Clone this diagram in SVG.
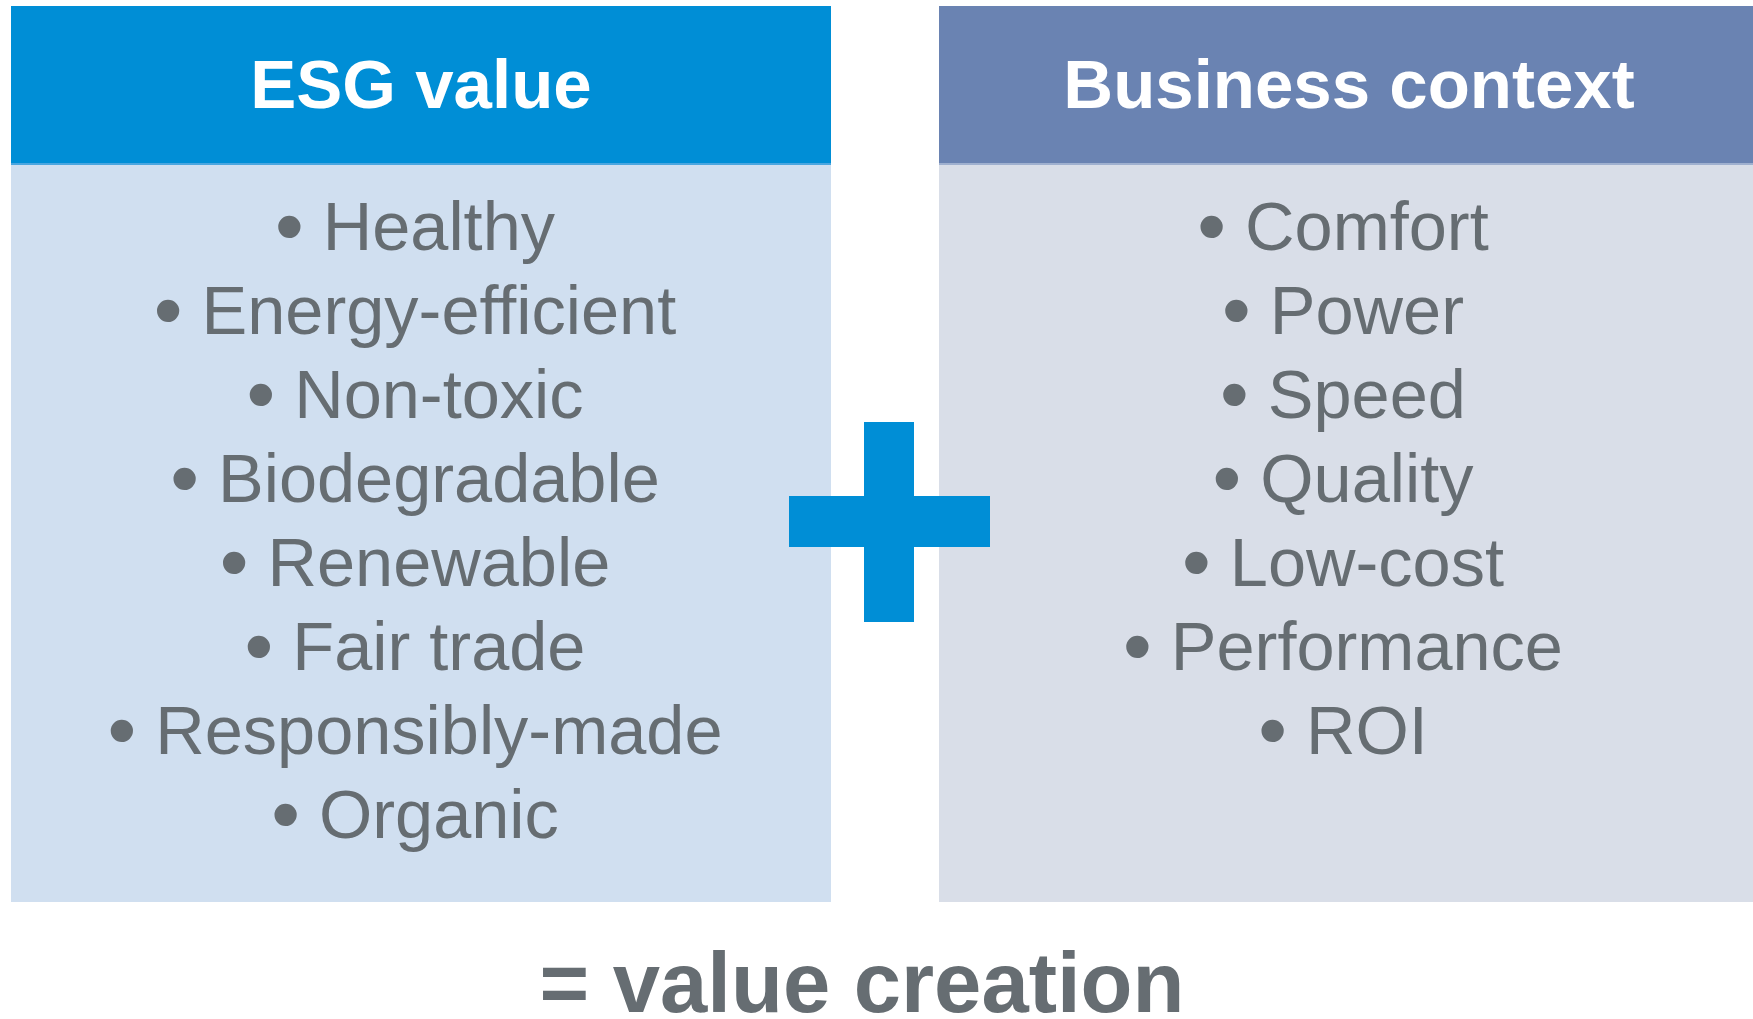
<svg xmlns="http://www.w3.org/2000/svg" width="1753" height="1019" viewBox="0 0 1753 1019">
  <style>
    .hdr { font-family: "Liberation Sans", Arial, sans-serif; font-weight: bold; font-size: 69px; fill: #ffffff; text-anchor: middle; }
    .item { font-family: "Liberation Sans", Arial, sans-serif; font-size: 68.5px; fill: #666d72; text-anchor: middle; }
    .item .b { font-size: 82px; baseline-shift: -4px; }
    .total { font-family: "Liberation Sans", Arial, sans-serif; font-weight: bold; font-size: 85px; fill: #666d72; text-anchor: middle; }
  </style>
  <rect width="1753" height="1019" fill="#ffffff"/>

  <!-- ESG value column -->
  <g id="esg-value">
    <rect x="11" y="164" width="820" height="738" fill="#d0dff0"/>
    <rect x="11" y="6" width="820" height="158" fill="#008ed6"/>
    <line x1="11" y1="164" x2="831" y2="164" stroke="#4aa6e0" stroke-width="2"/>
    <text class="hdr" x="421" y="108">ESG value</text>
    <text class="item" x="415" y="250"><tspan class="b">•</tspan> Healthy</text>
    <text class="item" x="415" y="334"><tspan class="b">•</tspan> Energy-efficient</text>
    <text class="item" x="415" y="418"><tspan class="b">•</tspan> Non-toxic</text>
    <text class="item" x="415" y="502"><tspan class="b">•</tspan> Biodegradable</text>
    <text class="item" x="415" y="586"><tspan class="b">•</tspan> Renewable</text>
    <text class="item" x="415" y="670"><tspan class="b">•</tspan> Fair trade</text>
    <text class="item" x="415" y="754"><tspan class="b">•</tspan> Responsibly-made</text>
    <text class="item" x="415" y="838"><tspan class="b">•</tspan> Organic</text>
  </g>

  <!-- Business context column -->
  <g id="business-context">
    <rect x="939" y="164" width="814" height="738" fill="#d9dee8"/>
    <rect x="939" y="6" width="814" height="158" fill="#6a83b2"/>
    <line x1="939" y1="164" x2="1753" y2="164" stroke="#9fb0cf" stroke-width="2"/>
    <text class="hdr" x="1349" y="108">Business context</text>
    <text class="item" x="1343" y="250"><tspan class="b">•</tspan> Comfort</text>
    <text class="item" x="1343" y="334"><tspan class="b">•</tspan> Power</text>
    <text class="item" x="1343" y="418"><tspan class="b">•</tspan> Speed</text>
    <text class="item" x="1343" y="502"><tspan class="b">•</tspan> Quality</text>
    <text class="item" x="1343" y="586"><tspan class="b">•</tspan> Low-cost</text>
    <text class="item" x="1343" y="670"><tspan class="b">•</tspan> Performance</text>
    <text class="item" x="1343" y="754"><tspan class="b">•</tspan> ROI</text>
  </g>

  <!-- plus sign between the columns -->
  <g id="plus">
    <rect x="864" y="422" width="50" height="200" fill="#008ed6"/>
    <rect x="789" y="496" width="201" height="51" fill="#008ed6"/>
  </g>

  <g id="connectors"></g>

  <g id="result">
    <text class="total" x="862" y="1012">= value creation</text>
  </g>
</svg>
